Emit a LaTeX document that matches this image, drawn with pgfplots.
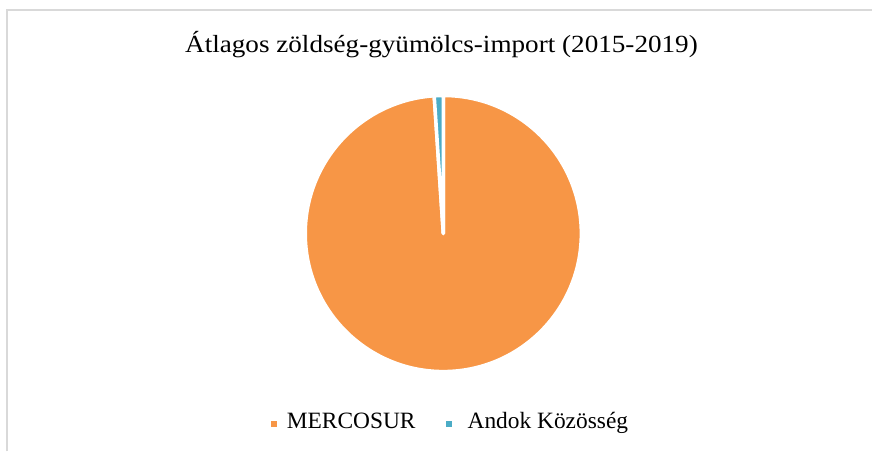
\documentclass[border=0pt]{standalone}
\usepackage{pgfplots}
\pgfplotsset{compat=1.18}
\usepackage{pgfplotstable}
\usepackage{fontspec}
\setmainfont{Liberation Serif}
\newfontfamily\titlefont[FakeStretch=1.1]{Liberation Serif}
\definecolor{mercosur}{HTML}{F79646}
\definecolor{andok}{HTML}{4BACC6}
\definecolor{framegray}{HTML}{D9D9D9}
\pgfplotstableread{
region share
MERCOSUR 98.95
Andok 1.05
}\piedata
\begin{document}
\begin{tikzpicture}
\pgfplotstablegetelem{0}{share}\of\piedata \let\va\pgfplotsretval
\pgfplotstablegetelem{1}{share}\of\piedata \let\vb\pgfplotsretval
\pgfmathsetmacro\angA{90-3.6*\va}
\pgfmathsetmacro\angB{\angA-3.6*\vb}
\begin{axis}[scale only axis, width=873bp, height=452bp,
  xmin=0, xmax=873, ymin=0, ymax=452, axis lines=none, clip=false]
\path (axis cs:0,0) rectangle (axis cs:873,452);
\draw[framegray, line width=2bp] (axis cs:7,0) -- (axis cs:7,441.5) -- (axis cs:873,441.5);
\filldraw[fill=mercosur, draw=white, line width=3.5bp, line join=round]
  (axis cs:443.8,218.2) -- ++(90:138.2bp) arc[start angle=90, end angle=\angA, radius=138.2bp] -- cycle;
\filldraw[fill=andok, draw=white, line width=3.5bp, line join=round]
  (axis cs:443.8,218.2) -- ++(\angA:138.2bp) arc[start angle=\angA, end angle=\angB, radius=138.2bp] -- cycle;
\node[anchor=base, font=\titlefont\fontsize{24.8}{28}\selectfont, inner sep=0pt] at (axis cs:442,399) {Átlagos zöldség-gyümölcs-import (2015-2019)};
\fill[mercosur] (axis cs:271,25) rectangle (axis cs:277,31);
\node[anchor=base west, font=\fontsize{23.5}{27}\selectfont, inner sep=0pt] at (axis cs:287,22.7) {MERCOSUR};
\fill[andok] (axis cs:447,25) rectangle (axis cs:453,31);
\node[anchor=base west, font=\fontsize{23.5}{27}\selectfont, inner sep=0pt] at (axis cs:468,22.7) {Andok Közösség};
\end{axis}
\end{tikzpicture}
\end{document}
